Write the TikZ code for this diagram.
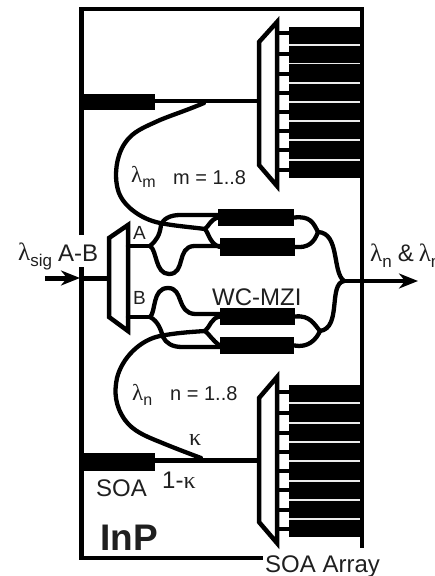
\documentclass[tikz,border=0pt]{standalone}
\usepackage{fontspec}
\setmainfont{Liberation Sans}
\newfontfamily\lamfont{Liberation Serif}
\usetikzlibrary{arrows.meta}
\newcommand{\fs}[1]{\fontsize{#1}{#1}\selectfont}
\newcommand{\lam}{{\lamfont λ}}
\newcommand{\kap}{{\lamfont κ}}
\tikzset{
  wg/.style={line width=4.3pt,line cap=round,line join=round},
  stub/.style={line width=4.5pt},
  demux/.style={line width=4.5pt,line join=miter,fill=white,draw=black},
  soa/.style={fill=black,draw=none,inner sep=0pt},
  gap/.style={draw=white!92!black,line width=1.1pt},
  lbl/.style={inner sep=0pt,text=black!88},
  tip/.style={-{Stealth[length=19pt,width=15pt,inset=6pt]}}
}
\begin{document}
\begin{tikzpicture}[x=1pt,y=-1pt]
\useasboundingbox (0,0) rectangle (435,576);
% chip frame
\coordinate (fTL) at (81.5,8.5);
\coordinate (fTR) at (362,8.5);
\coordinate (fBR) at (362,548);
\coordinate (fBL) at (81.5,558);
\coordinate (fGapA) at (81.5,235);
\coordinate (fGapB) at (81.5,267);
\coordinate (fBE) at (263,558);
\draw[line width=5pt] (fGapA) -- (81.5,6.5);
\draw[line width=4pt] (fTL) -- (364,8.5);
\draw[line width=5pt] (fGapB) -- (81.5,560);
\draw[line width=4.3pt] (fBL) -- (fBE);

% SOA arrays
\node[soa,minimum width=73pt,minimum height=151pt] (arrT) at (325.5,102.5) {};
\node[soa,minimum width=73pt,minimum height=152pt] (arrB) at (325.5,461) {};
\foreach \y in {33,54,74,93,112,131,150,170} \draw[stub] (275,\y) -- (290,\y);
\foreach \y in {392,413,433,452,471,490,510,529} \draw[stub] (275,\y) -- (290,\y);
\foreach \y in {45,63.5,83,102,121,140,160} \draw[gap] (289,\y) -- (360,\y);
\foreach \y in {403,423,442,461,481,500,519} \draw[gap] (289,\y) -- (360,\y);
\draw[line width=3.8pt] (fTR) -- (fBR);

% demultiplexers
\draw[demux] (259,42) coordinate (dTa) -- (277,22) -- (277,186) -- (259,165) -- cycle;
\draw[demux] (259,398) coordinate (dBa) -- (277,377) -- (277,543) -- (259,522) -- cycle;
\draw[demux] (109,238) coordinate (dMa) -- (128,225) -- (128,331) -- (109,317) -- cycle;
\coordinate (dTin) at (259,101);
\coordinate (dBin) at (259,460);
\coordinate (dMin) at (109,278);
\coordinate (dMA) at (128,246);
\coordinate (dMB) at (128,317);

% side SOAs
\node[soa,minimum width=74pt,minimum height=16pt] (soaT) at (118,102) {};
\node[soa,minimum width=74pt,minimum height=18pt] (soaB) at (118,462) {};
\draw[line width=4.4pt] (soaT.east |- dTin) -- (dTin);
\draw[line width=5pt] (soaB.east |- dBin) -- (dBin);

% MZI SOAs
\node[soa,minimum width=76pt,minimum height=17pt] (s1) at (256,217.5) {};
\node[soa,minimum width=75pt,minimum height=18pt] (s2) at (257.5,247) {};
\node[soa,minimum width=75pt,minimum height=17pt] (s3) at (257.5,316.5) {};
\node[soa,minimum width=74pt,minimum height=17pt] (s4) at (257,345.5) {};

% junctions
\coordinate (jA) at (150,246);
\coordinate (jB) at (150,317);
\coordinate (jT) at (205,229);
\coordinate (jL) at (205,331);
\coordinate (tapT) at (204,103);
\coordinate (tapB) at (201,458);
\coordinate (jR1) at (318,232);
\coordinate (jR2) at (320,331);
\coordinate (jOut) at (344,281);
\coordinate (outEnd) at (418,281);
\coordinate (inStart) at (45,278);
\coordinate (inTip) at (80,278);

% input / output
\draw[line width=5pt,tip] (inStart) -- (inTip);
\draw[line width=5pt] (inTip) -- (dMin);
\draw[line width=3.8pt,tip] (jOut) -- (outEnd);

% upper feedback waveguide
\draw[wg] (tapT) .. controls (185,111) and (172,115) .. (160,120)
  .. controls (145,127) and (133,131) .. (125,143)
  .. controls (116,156) and (114,176) .. (118,190)
  .. controls (122,205) and (140,219) .. (160,223)
  .. controls (175,226) and (190,227) .. (jT);
\draw[wg] (jT) .. controls (209,226) and (210,220) .. (s1.west);
\draw[wg] (jT) .. controls (209,234) and (210,244) .. (s2.west);
% lower feedback waveguide
\draw[wg] (tapB) .. controls (185,452) and (172,447) .. (160,442)
  .. controls (145,436) and (133,431) .. (125,420)
  .. controls (115,406) and (114,392) .. (117,378)
  .. controls (122,358) and (140,340) .. (160,336)
  .. controls (175,333) and (190,332) .. (jL);
\draw[wg] (jL) .. controls (210,327) and (211,318) .. (s3.west);
\draw[wg] (jL) .. controls (210,335) and (212,340) .. (s4.west);

% A branch
\draw[wg] (dMA) -- (jA);
\draw[wg] (jA) .. controls (156,241) and (160,235) .. (161,225)
  .. controls (163,219) and (170,215) .. (180,215) -- (s1.west |- 0,215);
\draw[wg] (jA) .. controls (157,250) and (155,274) .. (169,274)
  .. controls (186,274) and (176,247) .. (194,246) -- (s2.west |- 0,246);
% B branch
\draw[wg] (dMB) -- (jB);
\draw[wg] (jB) .. controls (156,312) and (152,288) .. (168,288)
  .. controls (184,288) and (176,313) .. (195,314) -- (s3.west |- 0,314);
\draw[wg] (jB) .. controls (158,321) and (161,330) .. (163,337)
  .. controls (166,343) and (172,347) .. (182,347) -- (s4.west |- 0,347);

% outputs of MZI
\draw[wg] (s1.east) .. controls (310,216) and (313,222) .. (jR1);
\draw[wg] (s2.east) .. controls (308,248) and (314,243) .. (jR1);
\draw[wg] (jR1) .. controls (340,233) and (332,272) .. (jOut);
\draw[wg] (s3.east) .. controls (310,315) and (314,324) .. (jR2);
\draw[wg] (s4.east) .. controls (308,348) and (316,340) .. (jR2);
\draw[wg] (jR2) .. controls (342,328) and (328,284) .. (jOut);

% labels
\node[lbl,anchor=base west] (lSig) at (18,260) {\fs{25}\lam\fs{17}\raisebox{-6pt}{sig}};
\node[lbl,anchor=base west] (lAB) at (58,261) {\fs{24}A-B};
\node[lbl,anchor=base west] (lOut) at (370,261) {\fs{25}\lam\fs{17}\raisebox{-6pt}{n}\hspace{6pt}\fs{24}\&\hspace{5pt}\fs{25}\lam\fs{17}\raisebox{-6pt}{n}};
\node[lbl,anchor=base west] (lA) at (133,239.5) {\fs{19}A};
\node[lbl,anchor=base west] (lB) at (133,304.5) {\fs{19}B};
\node[lbl,anchor=base west] (lWC) at (212,305) {\fs{24}WC-MZI};
\node[lbl,anchor=base west] (lm) at (131,182) {\fs{23}\lam\fs{16}\raisebox{-5pt}{m}};
\node[lbl,anchor=base west] (lm2) at (173,184) {\fs{20}m = 1..8};
\node[lbl,anchor=base west] (ln) at (132,400) {\fs{23}\lam\fs{16}\raisebox{-5pt}{n}};
\node[lbl,anchor=base west] (ln2) at (170,400) {\fs{20}n = 1..8};
\node[lbl,anchor=base west] (lk) at (189,445) {\fs{24}\kap};
\node[lbl,anchor=base west] (lk2) at (162,488) {\fs{24}1-\kap};
\node[lbl,anchor=base west] (lSOA) at (96,496) {\fs{24}SOA};
\node[lbl,anchor=base west] (lInP) at (100,550) {\fs{37}\bfseries InP};
\node[lbl,anchor=base west] (lArr) at (265,572) {\fs{24}SOA Array};
\end{tikzpicture}
\end{document}
